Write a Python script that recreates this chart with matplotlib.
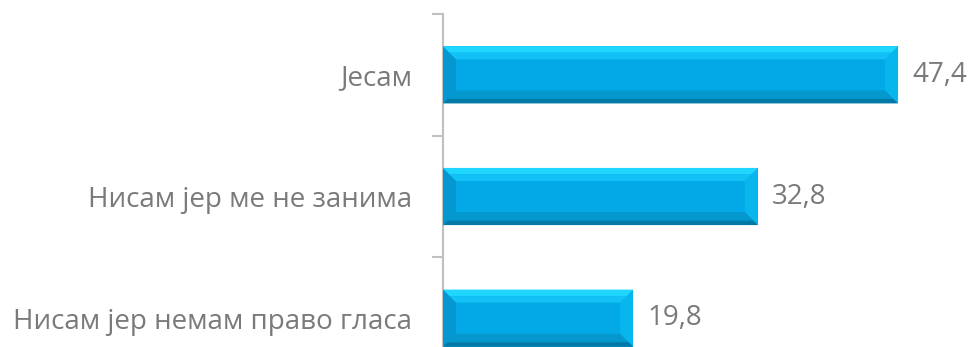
"""Horizontal bar chart with bevelled bars (voting survey answers)."""
import matplotlib

matplotlib.use("Agg")
import matplotlib.pyplot as plt
from matplotlib.patches import Polygon

categories = ["Јесам", "Нисам јер ме не занима", "Нисам јер немам право гласа"]
values = [47.4, 32.8, 19.8]

BASE = "#03A9E6"
TOP_OUT = "#1FD6FF"
TOP_IN = "#12C2F6"
BOT_IN = "#0498CF"
BOT_OUT = "#037AA6"
LEFT = "#0497D0"
RIGHT = "#08B6EE"
TEXT = "#7A7A7A"
AXIS = "#C0C0C0"

plt.rcParams["font.family"] = ["Open Sans", "DejaVu Sans"]

fig = plt.figure(figsize=(9.72, 3.47), dpi=100)
W, H = 972, 347
# axes extends below the bottom edge (the original chart is cropped)
left, right, top, bottom = 443, 971, 14, 379
ax = fig.add_axes([left / W, (H - bottom) / H, (right - left) / W, (bottom - top) / H])

xmax = 55
ax.set_xlim(0, xmax)
ax.set_ylim(2.5, -0.5)

bar_h = 0.47
ypos = list(range(len(categories)))
ax.barh(ypos, values, height=bar_h, color=BASE, edgecolor="none", zorder=2)

# bevel sizes in data units (about 13 px each way)
px_x = xmax / (right - left)
px_y = 3.0 / (bottom - top)
bx, by = 13 * px_x, 13 * px_y


def trap(v, ya, yb, d0, d1, col, z=3):
    # horizontal band between offsets d0..d1 (in bevel fraction) from edge ya toward yb
    s = 1 if yb > ya else -1
    pts = [(d0 * bx, ya + s * d0 * by), (v - d0 * bx, ya + s * d0 * by),
           (v - d1 * bx, ya + s * d1 * by), (d1 * bx, ya + s * d1 * by)]
    ax.add_patch(Polygon(pts, closed=True, facecolor=col, edgecolor="none", zorder=z))


for y, v in zip(ypos, values):
    y0, y1 = y - bar_h / 2, y + bar_h / 2  # y0 is top (inverted axis)
    ax.add_patch(Polygon([(0, y0), (bx, y0 + by), (bx, y1 - by), (0, y1)],
                         facecolor=LEFT, edgecolor="none", zorder=3))
    ax.add_patch(Polygon([(v, y0), (v - bx, y0 + by), (v - bx, y1 - by), (v, y1)],
                         facecolor=RIGHT, edgecolor="none", zorder=3))
    trap(v, y0, y1, 0, 0.5, TOP_OUT)
    trap(v, y0, y1, 0.5, 1, TOP_IN)
    trap(v, y1, y0, 0.35, 1, BOT_IN)
    trap(v, y1, y0, 0, 0.35, BOT_OUT)
    ax.text(v + 14 * px_x, y, f"{v:.1f}".replace(".", ","), va="center", ha="left",
            fontsize=20, color=TEXT)

for s in ["top", "right", "bottom"]:
    ax.spines[s].set_visible(False)
ax.spines["left"].set_color(AXIS)
ax.spines["left"].set_linewidth(1.5)

ax.set_xticks([])
ax.set_yticks(ypos)
ax.set_yticklabels(categories, fontsize=20, color=TEXT)
ax.tick_params(axis="y", which="major", length=0, pad=22)
ax.set_yticks([-0.5, 0.5, 1.5, 2.5], minor=True)
ax.tick_params(axis="y", which="minor", length=8, width=1.5, color=AXIS)

fig.savefig("out.png", dpi=100)
